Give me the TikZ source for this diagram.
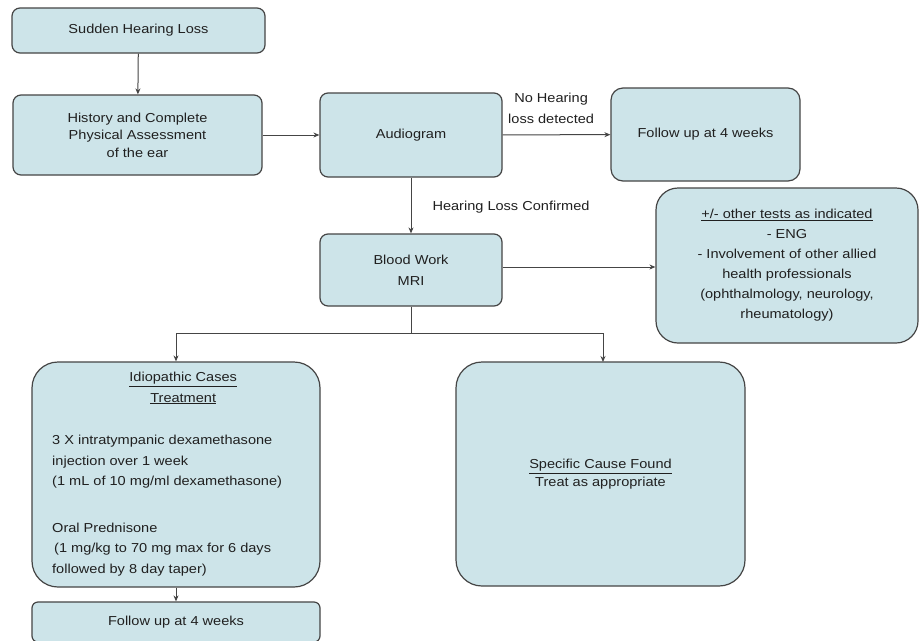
\documentclass[tikz,border=0pt]{standalone}
\usepackage{fontspec}
\setmainfont[FakeStretch=1.12]{Liberation Sans}
\usetikzlibrary{arrows.meta}
\definecolor{boxfill}{HTML}{CDE4E9}
\definecolor{boxline}{HTML}{454545}
\definecolor{txt}{HTML}{202020}
\begin{document}
\begin{tikzpicture}[x=1pt,y=-1pt,
  box/.style={draw=boxline, fill=boxfill, line width=1.2pt, rounded corners=#1, inner sep=0pt, text=txt},
  box/.default=8pt,
  lbl/.style={text=txt, inner sep=0pt, align=center, font=\fontsize{13}{21}\selectfont},
  arr/.style={draw=boxline, line width=1pt, -{Stealth[length=6pt,width=5pt]}}
]
\useasboundingbox (0,0) rectangle (923,640);
\fill[white] (0,0) rectangle (923,640);
\tikzset{every node/.append style={font=\fontsize{13}{17.5}\selectfont, align=center}}
% boxes
\node[box, minimum width=253pt, minimum height=45pt] (sudden) at (138.5,30.5) {Sudden Hearing Loss};
\node[box, minimum width=249pt, minimum height=80pt] (hist) at (137.5,135) {History and Complete\\Physical Assessment\\of the ear};
\node[box, minimum width=182pt, minimum height=84pt] (audio) at (411,135) {Audiogram};
\node[box=12pt, minimum width=189pt, minimum height=93pt] (fu1) at (705.5,134.5) {Follow up at 4 weeks};
\node[box, minimum width=182pt, minimum height=72pt, font=\fontsize{13}{21}\selectfont] (blood) at (411,270) {Blood Work\\MRI};
\node[box=22pt, minimum width=262pt, minimum height=155pt, font=\fontsize{13}{20}\selectfont] (other) at (787,265.5) {\underline{+/- other tests as indicated}\\- ENG\\- Involvement of other allied\\health professionals\\(ophthalmology, neurology,\\rheumatology)};
\node[box=26pt, minimum width=288pt, minimum height=225pt] (idio) at (176,474.5) {};
\node[box=26pt, minimum width=289pt, minimum height=224pt] (spec) at (600.5,474) {\underline{Specific Cause Found}\\Treat as appropriate};
\node[box=6pt, minimum width=288pt, minimum height=40pt] (fu2) at (176,622) {Follow up at 4 weeks};
% idiopathic text
\node[anchor=north west, inner sep=0pt, text=txt] (idiotext) at (52,372) {\parbox{262pt}{\fontsize{13}{20.5}\selectfont
\centering\underline{Idiopathic Cases}\\\underline{Treatment}\par
\vspace{22pt}\raggedright
3 X intratympanic dexamethasone\\injection over 1 week\\(1 mL of 10 mg/ml dexamethasone)\par
\vspace{26pt}
Oral Prednisone\\
\hspace*{2pt}(1 mg/kg to 70 mg max for 6 days\\followed by 8 day taper)}};
% connectors
\draw[arr] (sudden) -- (hist);
\draw[arr] (hist) -- (audio);
\draw[arr] (audio) -- (fu1) node[lbl, pos=0.45, above=11pt] (nolbl) {No Hearing\\loss detected};
\draw[arr] (audio) -- (blood);
\node[lbl] (conflbl) at (511,207) {Hearing Loss Confirmed};
\draw[arr] (blood.east |- 0,267) -- (other.west |- 0,267);
\coordinate (split) at (411,333);
\draw[arr] (blood.south) -- (split) -| (idio.north);
\draw[arr] (split) -| (603,362) coordinate (specin);
\draw[arr] (idio) -- (fu2);
\end{tikzpicture}
\end{document}
